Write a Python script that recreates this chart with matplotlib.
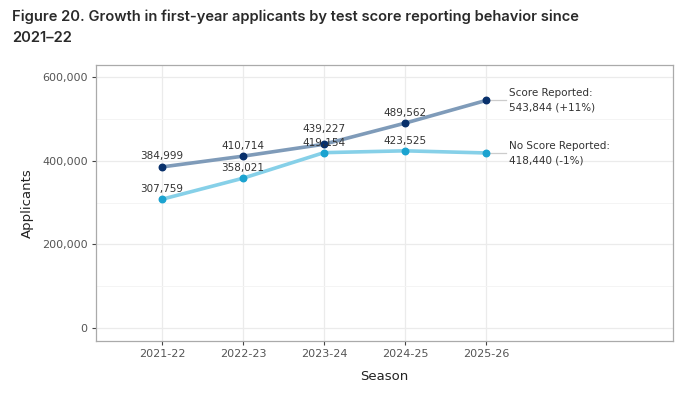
import matplotlib.pyplot as plt
from matplotlib.ticker import FuncFormatter, MultipleLocator

seasons = ['2021-22', '2022-23', '2023-24', '2024-25', '2025-26']
score_reported = [384999, 410714, 439227, 489562, 543844]
no_score_reported = [307759, 358021, 419154, 423525, 418440]
end_labels = ['Score Reported:\n543,844 (+11%)', 'No Score Reported:\n418,440 (-1%)']

fig = plt.figure(figsize=(6.93, 3.94), dpi=100)
fig.patch.set_facecolor('white')
ax = fig.add_axes([0.1385, 0.1345, 0.8325, 0.7005])

x = list(range(len(seasons)))

# lines first, points on top
ax.plot(x, score_reported, color='#7f9bb9', lw=2.6, solid_capstyle='round', zorder=3)
ax.plot(x, no_score_reported, color='#86d0e8', lw=2.6, solid_capstyle='round', zorder=3)
ax.scatter(x, score_reported, s=22, color='#08306b', zorder=4)
ax.scatter(x, no_score_reported, s=22, color='#1ba3d0', zorder=4)

# value labels (skip last season, handled by end labels); 2023-24 top label nudged up a bit
score_dy = [4, 4, 7.5, 4]
for xi, v, dy in zip(x[:-1], score_reported[:-1], score_dy):
    ax.annotate(f'{v:,}', (xi, v), xytext=(0, dy), textcoords='offset points',
                ha='center', va='bottom', fontsize=7.5, color='#333333', zorder=5)
for xi, v in zip(x[:-1], no_score_reported[:-1]):
    ax.annotate(f'{v:,}', (xi, v), xytext=(0, 3.5), textcoords='offset points',
                ha='center', va='bottom', fontsize=7.5, color='#333333', zorder=5)

for series, lab in zip([score_reported, no_score_reported], end_labels):
    xe, ye = x[-1], series[-1]
    ax.plot([xe, xe + 0.25], [ye, ye], color='#cccccc', lw=0.9, zorder=2)
    ax.text(xe + 0.28, ye, lab, ha='left', va='center', fontsize=7.5,
            color='#333333', linespacing=1.6)

ax.set_xlim(-0.815, 6.31)
ax.set_ylim(-31000, 628600)
ax.set_xticks(x)
ax.set_xticklabels(seasons)
ax.yaxis.set_major_locator(MultipleLocator(200000))
ax.yaxis.set_minor_locator(MultipleLocator(100000))
ax.yaxis.set_major_formatter(FuncFormatter(lambda v, p: f'{int(v):,}'))

ax.grid(which='major', color='#ebebeb', lw=0.9, zorder=0)
ax.grid(which='minor', axis='y', color='#f4f4f4', lw=0.7, zorder=0)
ax.set_axisbelow(True)
ax.tick_params(which='major', length=3, color='#444444', labelsize=8, labelcolor='#555555', pad=3)
ax.tick_params(which='minor', length=0)
for s in ax.spines.values():
    s.set_color('#aaaaaa')
    s.set_linewidth(0.9)

ax.set_xlabel('Season', fontsize=9.5, color='#222222', labelpad=8)
ax.set_ylabel('Applicants', fontsize=9.5, color='#222222', labelpad=6)

fig.text(0.017, 0.975, 'Figure 20. Growth in first-year applicants by test score reporting behavior since\n2021\u201322',
         ha='left', va='top', fontsize=10.6, fontweight='semibold', family='Inter',
         color='#2a2a2a', linespacing=1.6)

fig.savefig('out.png', dpi=100)
